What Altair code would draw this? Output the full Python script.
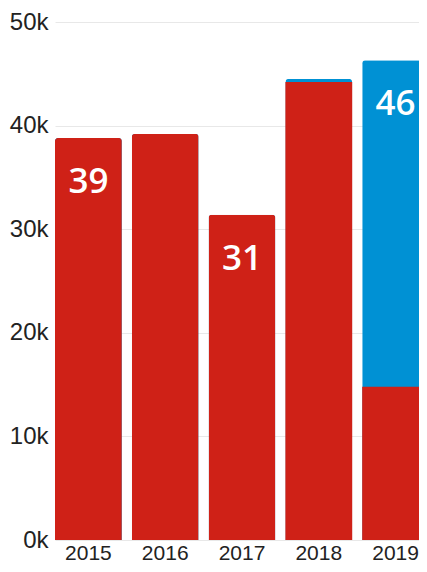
import altair as alt
import pandas as pd

years = ["2015", "2016", "2017", "2018", "2019"]
red_vals = [38800, 39200, 31400, 44200, 14800]
blue_vals = [0, 0, 0, 300, 31500]
labels = ["39", "", "31", "", "46"]

RED = "#cf2117"
BLUE = "#0091d4"

df = pd.DataFrame({"year": years, "red": red_vals, "blue": blue_vals, "label": labels})
df["total"] = df["red"] + df["blue"]

xscale = alt.Scale(range=[0, 374], paddingInner=0.13, paddingOuter=0)
yscale = alt.Scale(domain=[0, 50000])

x_axis = alt.Axis(title=None, domain=False, ticks=False, labelAngle=0, labelFontSize=21,
                  labelPadding=2, labelColor="#222", labelFont="Liberation Sans", grid=False)
y_axis = alt.Axis(title=None, domain=False, ticks=False, labelFontSize=24, labelPadding=7,
                  labelColor="#222", labelFont="Liberation Sans", grid=True, gridColor="#e8e8e8",
                  values=[0, 10000, 20000, 30000, 40000, 50000],
                  labelExpr="datum.value / 1000 + 'k'")

X = alt.X("year:O", scale=xscale, axis=x_axis)

base = alt.Chart(df)

blue_bar = base.mark_bar(color=BLUE, cornerRadiusTopLeft=3, cornerRadiusTopRight=3).encode(
    x=X,
    y=alt.Y("total:Q", scale=yscale, axis=y_axis),
)
red_round = base.transform_filter("datum.blue == 0").mark_bar(
    color=RED, cornerRadiusTopLeft=3, cornerRadiusTopRight=3).encode(
    x=X,
    y=alt.Y("red:Q", scale=yscale),
)
red_flat = base.transform_filter("datum.blue > 0").mark_bar(color=RED).encode(
    x=X,
    y=alt.Y("red:Q", scale=yscale),
)
text = base.mark_text(color="white", font="Open Sans", fontWeight=600, fontSize=35,
                      baseline="middle", dy=44).encode(
    x=X,
    y=alt.Y("total:Q", scale=yscale),
    text="label:N",
)

chart = alt.layer(blue_bar, red_round, red_flat, text).properties(
    width=364, height=518,
    autosize=alt.AutoSizeParams(type="none"),
    padding={"left": 47, "top": 14, "right": 0, "bottom": 24},
).configure_view(stroke=None)

chart.save("out.html", embed_options={"renderer": "svg", "actions": False})
